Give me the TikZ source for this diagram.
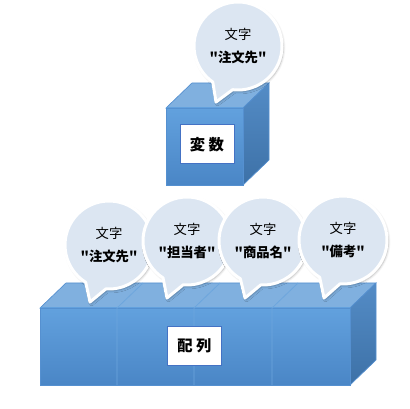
\documentclass[tikz,border=0pt]{standalone}
\usepackage{fontspec}
\newfontfamily\cjk{Noto Sans CJK JP}
\usetikzlibrary{calc,shadows.blur}
\definecolor{bubblefill}{HTML}{DCE6F2}
\definecolor{frontA}{HTML}{62A1DE}
\definecolor{frontB}{HTML}{4A86C6}
\definecolor{topface}{HTML}{80B0DF}
\definecolor{sideA}{HTML}{548CC6}
\definecolor{sideB}{HTML}{3D71A7}
\definecolor{cubeedge}{HTML}{5590D0}
\definecolor{divline}{HTML}{6DA6DD}
\definecolor{boxedge}{HTML}{4472C4}
\tikzset{
  bubble/.style={fill=bubblefill, draw=white, line width=2.25pt, line join=round,
    blur shadow={shadow xshift=1pt, shadow yshift=-1.2pt, shadow blur steps=6, shadow opacity=30}},
  bubtext/.style={align=center, inner sep=0pt, font=\cjk\fontsize{10}{11}\selectfont},
  cubefront/.style={top color=frontA, bottom color=frontB, draw=cubeedge, line width=0.5pt},
  cubetop/.style={fill=topface, draw=cubeedge, line width=0.5pt},
  cubeside/.style={top color=sideA, bottom color=sideB, draw=cubeedge, line width=0.5pt},
  divider/.style={draw=divline, line width=0.6pt},
  labelbox/.style={draw=boxedge, fill=white, line width=0.75pt, minimum width=40.5pt,
    minimum height=29.25pt, font=\cjk\bfseries\fontsize{11.5}{13}\selectfont}
}
% name, centre x, centre y, tip x, tip y, tail angle, text
\newcommand{\bubble}[7]{%
  \coordinate (#1) at (#2,#3);
  \coordinate (#1tip) at (#4,#5);
  \path[bubble] ($(#1)+(#6+14:44)$) arc[start angle=#6+14, end angle=#6+346, radius=44]
    -- (#1tip) -- cycle;
  \node[bubtext] (#1txt) at (#1) {#7};
}

\begin{document}
\begin{tikzpicture}[x=0.75pt, y=-0.75pt]
  \useasboundingbox (0,0) rectangle (410,409);

  % variable
  \draw[cubetop] (166,108) -- (192,83) -- (269,83) -- (243,108) -- cycle;
  \draw[cubeside] (243,108) -- (269,83) -- (269,160) -- (243,185) -- cycle;
  \draw[cubefront] (166,108) rectangle (243,185);
  \node[labelbox] (var) at (207,144.5) {変 数};
  \bubble{vb}{238}{46}{216}{102}{111}{文字\\[6.5pt]\textbf{"注文先"}}

  % array
  \draw[cubetop] (40,308) -- (66,283) -- (376,283) -- (350,308) -- cycle;
  \draw[cubeside] (350,308) -- (376,283) -- (376,360) -- (350,385) -- cycle;
  \draw[cubefront] (40,308) rectangle (350,385);
  \foreach \x in {117,194,272}
    \draw[divider] (\x,385) -- (\x,308) -- (\x+26,283);
  \node[labelbox] (arr) at (194.5,345.5) {配 列};

  \bubble{ab1}{109}{245}{90}{302}{108}{文字\\[6.5pt]\textbf{"注文先"}}
  \bubble{ab2}{187}{241}{167}{298}{109}{文字\\[6.5pt]\textbf{"担当者"}}
  \bubble{ab3}{263}{241}{245}{298}{107}{文字\\[6.5pt]\textbf{"商品名"}}
  \bubble{ab4}{343}{240}{324}{298}{108}{文字\\[6.5pt]\textbf{"備考"}}
\end{tikzpicture}
\end{document}
